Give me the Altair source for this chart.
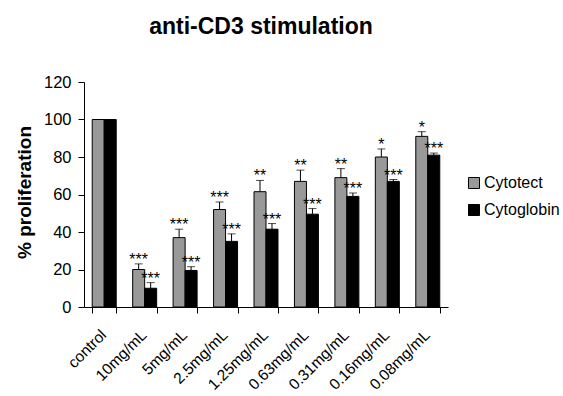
import altair as alt
import pandas as pd

categories = ["control", "10mg/mL", "5mg/mL", "2.5mg/mL", "1.25mg/mL",
              "0.63mg/mL", "0.31mg/mL", "0.16mg/mL", "0.08mg/mL"]
series_names = ["Cytotect", "Cytoglobin"]
cytotect = [100, 20, 37, 52, 61.5, 67, 69, 80, 91]
cytotect_err = [0, 3, 4.5, 4, 6, 6, 4.8, 4.3, 2.5]
cytoglobin = [100, 10, 19.5, 35, 41.5, 49.5, 59, 67, 81]
cytoglobin_err = [0, 3, 2, 4, 3, 3, 1.8, 1, 1.1]
cytotect_sig = ["", "***", "***", "***", "**", "**", "**", "*", "*"]
cytoglobin_sig = ["", "***", "***", "***", "***", "***", "***", "***", "***"]
y_ticks = [0, 20, 40, 60, 80, 100, 120]
colors = ["#999999", "#000000"]

rows = []
for i, c in enumerate(categories):
    rows.append({"cat": c, "series": "Cytotect", "value": cytotect[i],
                 "err": cytotect_err[i], "sig": cytotect_sig[i]})
    rows.append({"cat": c, "series": "Cytoglobin", "value": cytoglobin[i],
                 "err": cytoglobin_err[i], "sig": cytoglobin_sig[i]})
df = pd.DataFrame(rows)
df["top"] = df["value"] + df["err"]

FONT = "Liberation Sans"

x_axis = alt.Axis(title=None, labelAngle=-45, labelAlign="right",
                  labelBaseline="middle", labelPadding=19, labelOffset=-1,
                  tickBand="extent", tickSize=6, tickColor="black",
                  domainColor="black", labelColor="black",
                  labelFontSize=15.5, labelFont=FONT, labelOverlap=False)
x_enc = alt.X("cat:N", sort=categories,
              scale=alt.Scale(paddingInner=0.407, paddingOuter=0.2035),
              axis=x_axis)
xo_enc = alt.XOffset("series:N", sort=series_names,
                     scale=alt.Scale(paddingInner=0, paddingOuter=0))
y_scale = alt.Scale(domain=[0, 120], nice=False, zero=True)
y_axis = alt.Axis(title="% proliferation", values=y_ticks, tickCount=7,
                  grid=False, tickSize=6, tickColor="black",
                  domainColor="black", labelColor="black",
                  labelFontSize=16.5, labelFont=FONT, labelPadding=7,
                  labelOverlap=False,
                  titleFont=FONT, titleFontSize=19, titleFontWeight="bold",
                  titleColor="black", titleX=-54, titleY=110,
                  titleAngle=270, titleAlign="center",
                  titleBaseline="alphabetic")

base = alt.Chart(df)

bars = base.mark_bar(stroke="black", strokeWidth=1).encode(
    x=x_enc,
    xOffset=xo_enc,
    y=alt.Y("value:Q", scale=y_scale, axis=y_axis),
    color=alt.Color("series:N", sort=series_names,
                    scale=alt.Scale(domain=series_names, range=colors),
                    legend=alt.Legend(title=None, orient="none", legendX=382, legendY=93,
                                      symbolType="square", symbolSize=121,
                                      symbolStrokeColor="black", symbolStrokeWidth=1,
                                      labelFont=FONT, labelFontSize=16,
                                      labelColor="black", rowPadding=11,
                                      labelOffset=2, padding=0)),
)

errdf = base.transform_filter("datum.err > 0")

err_rule = errdf.mark_rule(color="black", strokeWidth=1).encode(
    x=x_enc,
    xOffset=xo_enc,
    y=alt.Y("value:Q", scale=y_scale, axis=y_axis),
    y2="top:Q",
)

err_cap = errdf.mark_tick(color="black", thickness=1, size=8, orient="horizontal").encode(
    x=x_enc,
    xOffset=xo_enc,
    y=alt.Y("top:Q", scale=y_scale, axis=y_axis),
)

stars = errdf.mark_text(font=FONT, fontSize=16, color="black", dy=-4,
                        baseline="middle").encode(
    x=x_enc,
    xOffset=xo_enc,
    y=alt.Y("top:Q", scale=y_scale, axis=y_axis),
    text="sig:N",
)

chart = alt.layer(bars, err_rule, err_cap, stars).properties(
    width=364, height=225,
    title=alt.TitleParams("anti-CD3 stimulation", font=FONT, fontSize=23,
                          fontWeight="bold", color="black", anchor="middle",
                          offset=35, dx=-5),
    autosize=alt.AutoSizeParams(type="none"),
    padding={"left": 84, "top": 82, "right": 115, "bottom": 89},
).configure_view(stroke=None)

chart.save("out.html", embed_options={"renderer": "svg", "actions": False})
